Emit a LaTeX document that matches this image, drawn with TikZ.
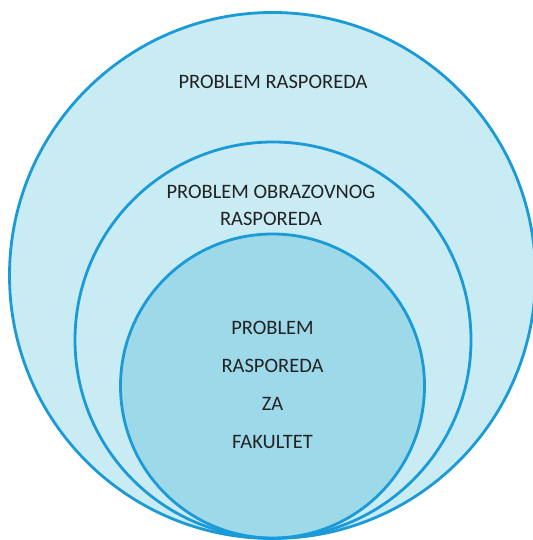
\documentclass[tikz,border=0pt]{standalone}
\usepackage{fontspec}
\setmainfont{Carlito}
\definecolor{ringblue}{HTML}{1A9AD6}
\definecolor{paleblue}{HTML}{C9EBF4}
\definecolor{midblue}{HTML}{9ED9EA}
\definecolor{textgray}{HTML}{222222}
\begin{document}
\begin{tikzpicture}[x=1pt, y=1pt,
		ring/.style={draw=ringblue, line width=2.8pt},
		caption/.style={text=textgray, align=center, inner sep=0pt, font=\fontsize{20.5}{27}\selectfont}]
			\useasboundingbox (0,0) rectangle (532,540);
			\fill[white] (0,0) rectangle (532,540);
			% nested sets, all touching at the bottom
			\draw [ring, fill=paleblue] (272.5,264.5) circle (263);
			\draw [ring, fill=paleblue] (273,200) circle (198);
			\draw [ring, fill=midblue] (272.5,154) circle (152);
			\node [caption] (outer) at (273,458) {PROBLEM RASPOREDA};
			\node [caption] (middle) at (271,334.5) {PROBLEM OBRAZOVNOG\\RASPOREDA};
			\node [caption, font=\fontsize{20.5}{38}\selectfont] (inner) at (272.5,155.5) {PROBLEM\\RASPOREDA\\ZA\\FAKULTET};
		\end{tikzpicture}
\end{document}
